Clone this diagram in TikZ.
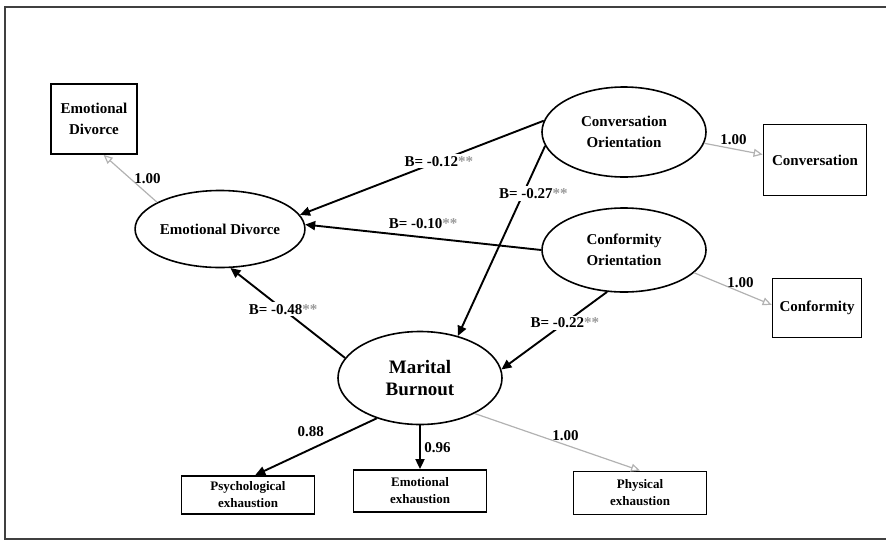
\documentclass[tikz,border=0pt]{standalone}
\usepackage{fontspec}
\setmainfont{Liberation Serif}
\usetikzlibrary{positioning}
\usetikzlibrary{shapes.geometric}
\usetikzlibrary{arrows.meta}
\newcommand{\sigstars}{\textcolor{gray!80}{**}}
\tikzset{
    x=1pt, y=-1pt,
    every node/.append style={
        font=\bfseries\fontsize{15}{21}\selectfont
    },
    latent/.style={
        ellipse, draw,
        line width=1.6pt,
        minimum width=164pt,
        minimum height=84pt,
        inner sep=0pt,
        align=center
    },
    observed/.style={
        rectangle, draw,
        line width=1.8pt,
        inner sep=0pt,
        align=center
    },
    indicator/.style={
        observed,
        minimum width=133pt,
        font=\bfseries\fontsize{13}{17}\selectfont
    },
    coef/.style={
        fill=white,
        inner sep=2pt
    },
    loadarrow/.style={
        draw=gray!60,
        line width=1.2pt,
        -{Triangle[open,length=9pt,width=8pt]}
    },
    every edge/.append style={
        draw,
        -{Triangle[length=10pt,width=9pt]},
        line width=1.9pt
    }
}

\begin{document}
\begin{tikzpicture}
                \useasboundingbox (0,0) rectangle (886,541);
                \draw[line width=1.5pt, black!75] (886,7) -- (5,7) -- (5,539) -- (886,539);
                \node[latent, minimum height=93pt, font=\bfseries\fontsize{19}{22}\selectfont] (mb) at (420,378) {Marital\\Burnout};
                \node[latent, minimum height=77pt, on grid, above left=149pt and 200pt of mb] (ed) {Emotional Divorce};
                \node[latent, on grid, above right=128pt and 204pt of mb] (cf) {Conformity\\Orientation};
                \node[latent, minimum height=90pt, on grid, above=118pt of cf] (co) {Conversation\\Orientation};
                \node[observed, minimum width=86pt, minimum height=70pt, on grid, above left=110pt and 126pt of ed] (edbox) {Emotional\\Divorce};
                \node[observed, minimum width=103pt, minimum height=71pt, on grid, below right=28pt and 191pt of co] (convbox) {Conversation};
                \node[observed, minimum width=89pt, minimum height=59pt, on grid, below right=58pt and 193pt of cf] (confbox) {Conformity};
                \node[indicator, minimum height=38pt, on grid, below left=117pt and 172pt of mb] (psy) {Psychological\\exhaustion};
                \node[indicator, minimum height=42pt, on grid, below=113pt of mb] (emo) {Emotional\\exhaustion};
                \node[indicator, minimum height=43pt, on grid, below right=115pt and 220pt of mb] (phy) {Physical\\exhaustion};
                \draw (co.172) edge node[coef, pos=0.43] {B= -0.12\sigstars} (ed.10)
                    (co.190) edge node[coef, pos=0.25, xshift=10pt] {B= -0.27\sigstars} (mb.48)
                    (co.-8) edge[loadarrow] node[above] {1.00} (convbox.174);
                \draw (cf.west) edge node[above=4pt] {B= -0.10\sigstars} (ed.3)
                    (cf.-112) edge node[coef, pos=0.4] {B= -0.22\sigstars} (mb.6)
                    (cf.-18) edge[loadarrow] node[above, pos=0.6] {1.00} (confbox.176);
                \draw (mb.165) edge node[coef, pos=0.54] {B= -0.48\sigstars} (ed.-75)
                    (mb.-137) edge node[above left, pos=0.4] {0.88} (psy.70)
                    (mb.south) edge node[right] {0.96} (emo.north)
                    (mb.-33) edge[loadarrow] node[above, pos=0.55] {1.00} (phy.north);
                \draw (ed.157) edge[loadarrow] node[right] {1.00} (edbox.-75);
            \end{tikzpicture}
\end{document}
